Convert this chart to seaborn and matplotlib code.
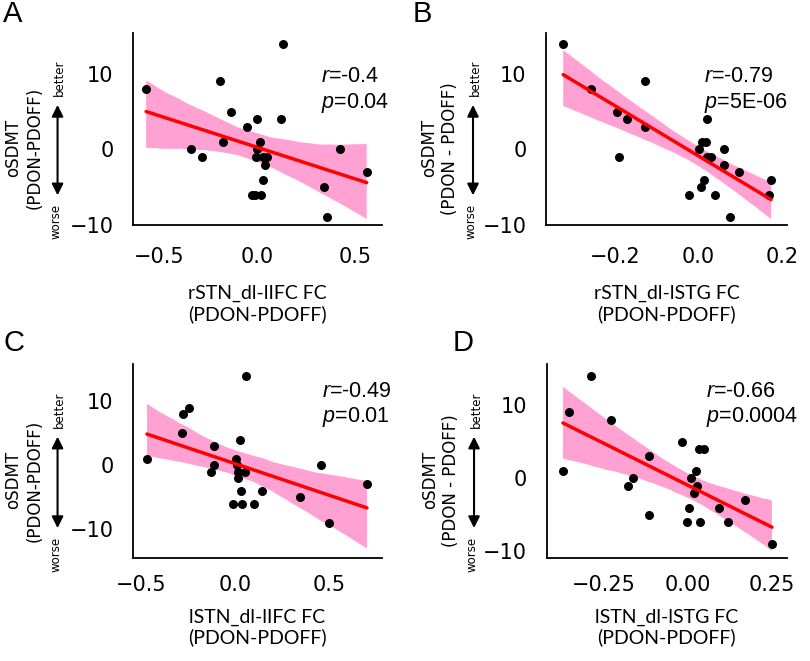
import numpy as np
import pandas as pd
import seaborn as sns
import matplotlib.pyplot as plt

# Panel A: rSTN_dl-lIFC FC vs oSDMT
fc_a = [-0.566, -0.189, 0.131, -0.133, -0.002, 0.122, -0.049, -0.172, 0.015, -0.337, -0.282, -0.002,
        -0.005, 0.029, 0.049, 0.041, 0.029, -0.024, -0.010, 0.020, 0.423, 0.560, 0.344, 0.355]
sdmt_a = [8, 9, 14, 5, 4, 4, 3, 1, 1, 0, -1, 0, -1, -1, -1, -2, -4, -6, -6, -6, 0, -3, -5, -9]

# Panel B: rSTN_dl-lSTG FC vs oSDMT
fc_b = [-0.323, -0.257, -0.129, -0.195, -0.170, -0.129, -0.191, 0.020, 0.008, 0.017, 0.002, 0.061,
        0.020, 0.030, 0.060, 0.096, 0.012, 0.173, 0.006, -0.022, 0.040, 0.167, 0.074]
sdmt_b = [14, 8, 9, 5, 4, 3, -1, 4, 1, 1, 0, 0, -1, -1, -2, -3, -4, -4, -5, -6, -6, -6, -9]

# Panel C: lSTN_dl-lIFC FC vs oSDMT
fc_c = [0.057, -0.248, -0.278, -0.284, 0.027, -0.112, -0.470, 0.005, 0.457, -0.112, 0.009, -0.129,
        0.012, 0.053, 0.012, 0.700, 0.032, 0.140, 0.346, -0.012, 0.035, 0.098, 0.497]
sdmt_c = [14, 9, 8, 5, 4, 3, 1, 1, 0, 0, 0, -1, -1, -1, -2, -3, -4, -4, -5, -6, -6, -6, -9]

# Panel D: lSTN_dl-lSTG FC vs oSDMT
fc_d = [-0.289, -0.354, -0.229, -0.019, 0.031, 0.046, -0.116, -0.372, 0.023, -0.165, 0.008, -0.179,
        0.026, 0.018, 0.169, 0.003, 0.093, -0.116, -0.004, 0.034, 0.117, 0.249]
sdmt_d = [14, 9, 8, 5, 4, 4, 3, 1, 1, 0, 0, -1, -1, -2, -3, -4, -4, -5, -6, -6, -6, -9]

stats_a = ["-0.4", "0.04"]
stats_b = ["-0.79", "5E-06"]
stats_c = ["-0.49", "0.01"]
stats_d = ["-0.66", "0.0004"]

xticks_a = [-0.5, 0.0, 0.5]
xticks_b = [-0.2, 0.0, 0.2]
xticks_c = [-0.5, 0.0, 0.5]
xticks_d = [-0.25, 0.0, 0.25]
yticks = [-10, 0, 10]

sns.set_style("white")
plt.rcParams['font.family'] = ['DejaVu Sans']
plt.rcParams['axes.edgecolor'] = 'black'
plt.rcParams['axes.linewidth'] = 1.3
plt.rcParams['text.color'] = 'black'
plt.rcParams['axes.labelcolor'] = 'black'
plt.rcParams['xtick.color'] = 'black'
plt.rcParams['ytick.color'] = 'black'
plt.rcParams['mathtext.fontset'] = 'custom'
plt.rcParams['mathtext.it'] = 'Liberation Sans:italic'
plt.rcParams['mathtext.rm'] = 'Liberation Sans'


def draw_panel(ax, fc, sdmt, xlabel, ylabel, stats, xticks, xlim, ylim, text_pos, xpad, xlab_y):
    df = pd.DataFrame({'fc': fc, 'sdmt': sdmt})
    sns.regplot(data=df, x='fc', y='sdmt', ax=ax, seed=0,
                scatter_kws={'color': 'black', 's': 42, 'linewidths': 0, 'alpha': 1},
                line_kws={'color': 'red', 'lw': 2.5})
    # recolour the confidence band
    band = ax.collections[-1]
    band.set_facecolor('deeppink')
    band.set_alpha(0.4)
    band.set_edgecolor('none')
    band.set_zorder(0.5)

    ax.set_xlim(*xlim)
    ax.set_ylim(*ylim)
    ax.set_xticks(xticks)
    ax.set_yticks(yticks)
    ax.tick_params(axis='both', length=0, labelsize=15)
    ax.tick_params(axis='x', pad=xpad)
    ax.tick_params(axis='y', pad=14)
    sns.despine(ax=ax)

    ax.set_xlabel(xlabel, fontsize=14, family='Lato', va='top')
    ax.xaxis.set_label_coords(0.5, xlab_y)
    ax.set_ylabel(ylabel, fontsize=12)
    ax.yaxis.set_label_coords(-0.36, 0.40)

    # better / worse arrow
    ax.annotate('', xy=(-0.303, 0.64), xytext=(-0.303, 0.14), xycoords='axes fraction',
                arrowprops=dict(arrowstyle='<|-|>', color='black', lw=1.5, mutation_scale=17),
                annotation_clip=False)
    ax.text(-0.295, 0.765, 'better', rotation=90, fontsize=8.5, ha='center', va='center',
            transform=ax.transAxes)
    ax.text(-0.31, 0.02, 'worse', rotation=90, fontsize=8.5, ha='center', va='center',
            transform=ax.transAxes)

    ax.text(text_pos[0], text_pos[1], "$r$=" + stats[0] + "\n" + "$p$=" + stats[1],
            transform=ax.transAxes, fontsize=15.5, family='Liberation Sans', ha='left', va='center')


fig = plt.figure(figsize=(8.1, 6.61), dpi=100)
ax_a = fig.add_axes([0.1642, 0.6596, 0.3074, 0.2904])
ax_b = fig.add_axes([0.6741, 0.6596, 0.2975, 0.2904])
ax_c = fig.add_axes([0.1642, 0.1558, 0.3074, 0.2935])
ax_d = fig.add_axes([0.6750, 0.1558, 0.2963, 0.2935])

draw_panel(ax_a, fc_a, sdmt_a, "rSTN_dl-lIFC FC\n(PDON-PDOFF)", "oSDMT\n(PDON-PDOFF)", stats_a,
           xticks_a, (-0.633, 0.638), (-9.87, 15.4), (0.755, 0.70), 16, -0.31)
draw_panel(ax_b, fc_b, sdmt_b, "rSTN_dl-lSTG FC\n(PDON-PDOFF)", "oSDMT\n(PDON - PDOFF)", stats_b,
           xticks_b, (-0.364, 0.211), (-9.87, 15.4), (0.655, 0.70), 16, -0.31)
draw_panel(ax_c, fc_c, sdmt_c, "lSTN_dl-lIFC FC\n(PDON-PDOFF)", "oSDMT\n(PDON-PDOFF)", stats_c,
           xticks_c, (-0.544, 0.780), (-14.5, 15.8), (0.76, 0.79), 12, -0.26)
draw_panel(ax_d, fc_d, sdmt_d, "lSTN_dl-lSTG FC\n(PDON-PDOFF)", "oSDMT\n(PDON - PDOFF)", stats_d,
           xticks_d, (-0.42, 0.293), (-10.9, 15.6), (0.665, 0.79), 12, -0.26)

for letter, x, y in [('A', 0.004, 0.979), ('B', 0.510, 0.979), ('C', 0.004, 0.481), ('D', 0.559, 0.481)]:
    fig.text(x, y, letter, fontsize=21, family='Liberation Sans', ha='left', va='center')

fig.savefig('out.png', dpi=100)
